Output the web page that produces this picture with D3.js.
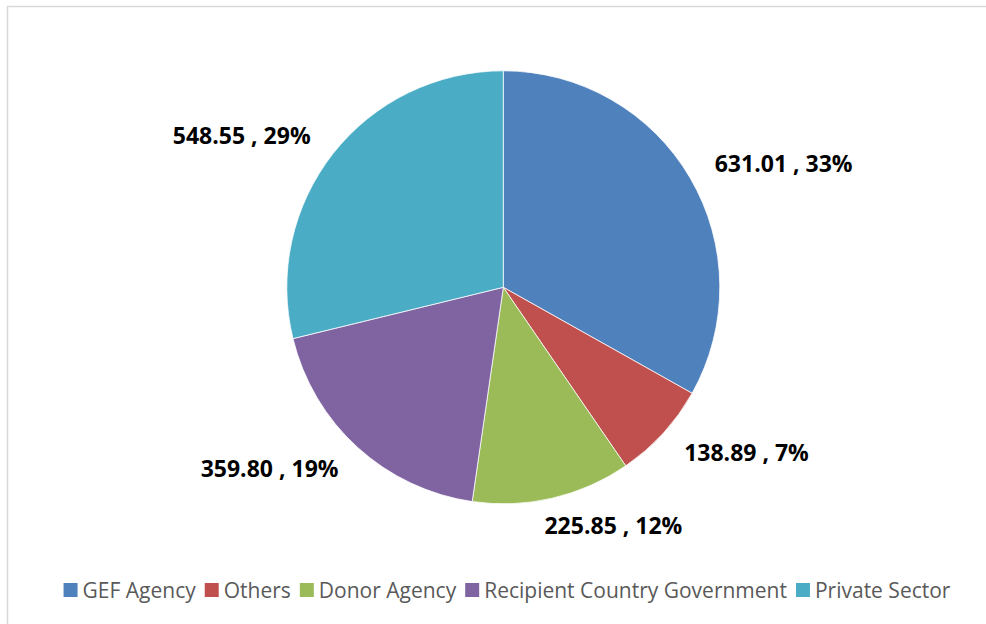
<!DOCTYPE html>
<html>
<head>
<meta charset="utf-8">
<script src="https://cdn.jsdelivr.net/npm/d3@7"></script>
<style>
  html, body { margin: 0; padding: 0; background: #fff; }
  svg { display: block; }
</style>
</head>
<body>
<svg id="chart" width="986" height="624"></svg>
<script>
// Co-financing by source
const categories = ["GEF Agency", "Others", "Donor Agency", "Recipient Country Government", "Private Sector"];
const amounts = [631.01, 138.89, 225.85, 359.80, 548.55];
const sliceColors = ["#4F81BD", "#C0504D", "#9BBB59", "#8064A2", "#4BACC6"];

const W = 986, H = 624;
const cx = 503.3, cy = 287.3, radius = 216.5;
const labelRadius = 245;

const svg = d3.select("#chart");

// chart area frame
svg.append("rect")
  .attr("x", 7.5).attr("y", 6.5)
  .attr("width", 1010).attr("height", 640)
  .attr("fill", "#fff")
  .attr("stroke", "#d9d9d9")
  .attr("stroke-width", 1.5);

const data = categories.map((c, i) => ({ name: c, value: amounts[i], color: sliceColors[i] }));
const total = d3.sum(amounts);

const pie = d3.pie().sort(null).value(d => d.value);
const arcs = pie(data);
const arc = d3.arc().innerRadius(0).outerRadius(radius);

const g = svg.append("g").attr("transform", `translate(${cx},${cy})`);

g.selectAll("path.slice")
  .data(arcs)
  .join("path")
  .attr("class", "slice")
  .attr("d", arc)
  .attr("fill", d => d.data.color)
  .attr("stroke", "#ffffff")
  .attr("stroke-width", 0.75);

// data labels: "value , percent" placed outside each slice
const fmtPct = d3.format(".0%");
const labels = g.selectAll("text.lbl")
  .data(arcs)
  .join("text")
  .attr("class", "lbl")
  .attr("font-family", "'Open Sans', sans-serif")
  .attr("font-weight", 700)
  .attr("font-size", 23)
  .attr("fill", "#000")
  .attr("text-anchor", "middle")
  .attr("dy", "0.36em")
  .text(d => `${d3.format(".2f")(d.data.value)} , ${fmtPct(d.data.value / total)}`);

labels.each(function(d) {
  const a = (d.startAngle + d.endAngle) / 2;
  const s = Math.sin(a), c = Math.cos(a);
  const ax = labelRadius * s, ay = -labelRadius * c;
  const w = this.getComputedTextLength();
  const k = Math.max(-1, Math.min(1, s * 3.5));
  d3.select(this).attr("x", ax + (w / 2) * k).attr("y", ay);
});

// legend along the bottom, centred
const legend = svg.append("g");
const sw = 14, gapText = 5, gapItem = 9;
const items = legend.selectAll("g.item")
  .data(data)
  .join("g")
  .attr("class", "item");

items.append("rect")
  .attr("width", sw).attr("height", sw)
  .attr("y", -sw / 2)
  .attr("fill", d => d.color);

items.append("text")
  .attr("x", sw + gapText)
  .attr("dy", "0.36em")
  .attr("font-family", "'Open Sans', sans-serif")
  .attr("font-size", 21)
  .attr("fill", "#595959")
  .text(d => d.name);

let xPos = 0;
const widths = [];
items.each(function() {
  const tw = d3.select(this).select("text").node().getComputedTextLength();
  widths.push(sw + gapText + tw);
});
const totalW = d3.sum(widths) + gapItem * (widths.length - 1);
let x0 = 507 - totalW / 2;
items.attr("transform", (d, i) => {
  const t = `translate(${x0},590)`;
  x0 += widths[i] + gapItem;
  return t;
});
</script>
</body>
</html>
